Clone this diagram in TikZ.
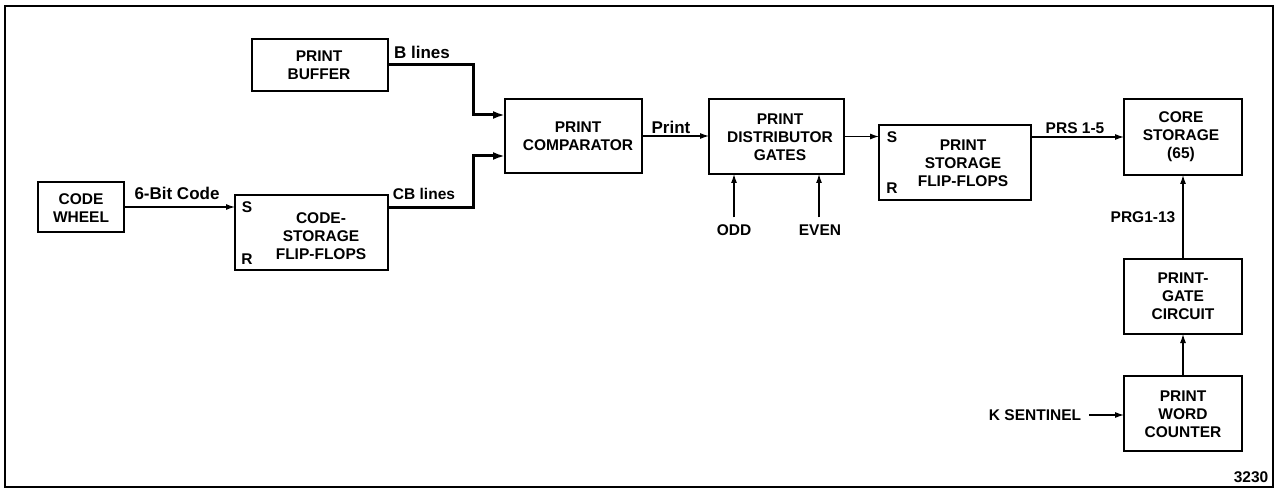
\documentclass[tikz,border=0pt]{standalone}
\usepackage{fontspec}
\setmainfont{Liberation Sans}
\usetikzlibrary{arrows.meta,calc}
\begin{document}
\begin{tikzpicture}[x=1pt,y=-1pt,
  box/.style={draw, line width=1.5pt, inner sep=0pt, outer sep=0pt},
  txt/.style={font=\fontsize{15.5}{18}\selectfont\bfseries, align=center, inner sep=0pt},
  big/.style={font=\fontsize{17}{20}\selectfont\bfseries},
  wire/.style={line width=1.2pt, -{Latex[length=9pt,width=6pt]}},
  bus/.style={line width=3pt, -{Latex[length=12pt,width=8pt]}},
]
\useasboundingbox (0,0) rectangle (1276,489);
\node[box, line width=1.6pt, minimum width=1268pt, minimum height=481pt] (frame) at (639,246.5) {};

% boxes
\node[box, minimum width=86pt,  minimum height=50pt] (cw)   at (81,207) {};
\node[box, minimum width=136pt, minimum height=52pt] (pb)   at (320,65) {};
\node[box, minimum width=153pt, minimum height=75pt] (cs)   at (311.5,232.5) {};
\node[box, minimum width=137pt, minimum height=74pt] (pc)   at (573.5,136) {};
\node[box, minimum width=135pt, minimum height=75pt] (pd)   at (776.5,136.5) {};
\node[box, minimum width=152pt, minimum height=75pt] (ps)   at (955,162.5) {};
\node[box, minimum width=118pt, minimum height=76pt] (core) at (1183,137) {};
\node[box, minimum width=118pt, minimum height=75pt] (pg)   at (1183,296.5) {};
\node[box, minimum width=118pt, minimum height=75pt] (wc)   at (1183,413.5) {};

% box texts
\node[txt] (cw-t)   at (81,208.5) {CODE\\WHEEL};
\node[txt] (pb-t)   at (319,65.5) {PRINT\\BUFFER};
\node[txt] (cs-t)   at (321,236) {CODE-\\STORAGE\\FLIP-FLOPS};
\node[txt] (pc-t)   at (578,136.5) {PRINT\\COMPARATOR};
\node[txt] (pd-t)   at (780,137) {PRINT\\DISTRIBUTOR\\GATES};
\node[txt] (ps-t)   at (963,163.5) {PRINT\\STORAGE\\FLIP-FLOPS};
\node[txt] (core-t) at (1181,137) {CORE\\STORAGE\\(65)};
\node[txt] (pg-t)   at (1183,296) {PRINT-\\GATE\\CIRCUIT};
\node[txt] (wc-t)   at (1183,414) {PRINT\\WORD\\COUNTER};

% S / R
\node[txt] (cs-s) at (247,207) {S};
\node[txt] (cs-r) at (247,259) {R};
\node[txt] (ps-s) at (892,137) {S};
\node[txt] (ps-r) at (892,188) {R};

% labels
\node[txt, big] (l6)   at (177,193) {6-Bit Code};
\node[txt, big] (lb)   at (422,52) {B lines};
\node[txt] (lcb)  at (424,194) {CB lines};
\node[txt, big] (lpr)  at (671,127) {Print};
\node[txt] (odd)  at (734,230) {ODD};
\node[txt] (even) at (820,230) {EVEN};
\node[txt] (lprs) at (1075,128) {PRS 1-5};
\node[txt] (lprg) at (1143,217) {PRG1-13};
\node[txt] (ks)   at (1035,415) {K SENTINEL};
\node[txt] (num)  at (1251,477) {3230};

\coordinate (bj) at (473,0);

% connectors
\draw[wire] (cw.east) -- (cw.east -| cs.west);
\draw[bus] (pb.east) -| ($(bj |- pc.west)+(0,-21)$) -- ($(pc.west)+(0,-21)$);
\draw[bus] (cs.east |- cw.east) -| ($(bj |- pc.west)+(0,20)$) -- ($(pc.west)+(0,20)$);
\draw[wire] (pc.east) -- (pc.east -| pd.west);
\draw[wire] ($(odd.north)+(0,-7)$) -- (odd.north |- pd.south);
\draw[wire] ($(even.north)+(-1,-7)$) -- ($(even.north |- pd.south)+(-1,0)$);
\draw[wire] (pd.east) -- (pd.east -| ps.west);
\draw[wire] (ps.east |- core.west) -- (core.west);
\draw[wire] (pg.north) -- (core.south);
\draw[wire] (wc.north) -- (pg.south);
\draw[wire] ($(ks.east)+(8,0)$) -- (ks.east -| wc.west);
\end{tikzpicture}
\end{document}
